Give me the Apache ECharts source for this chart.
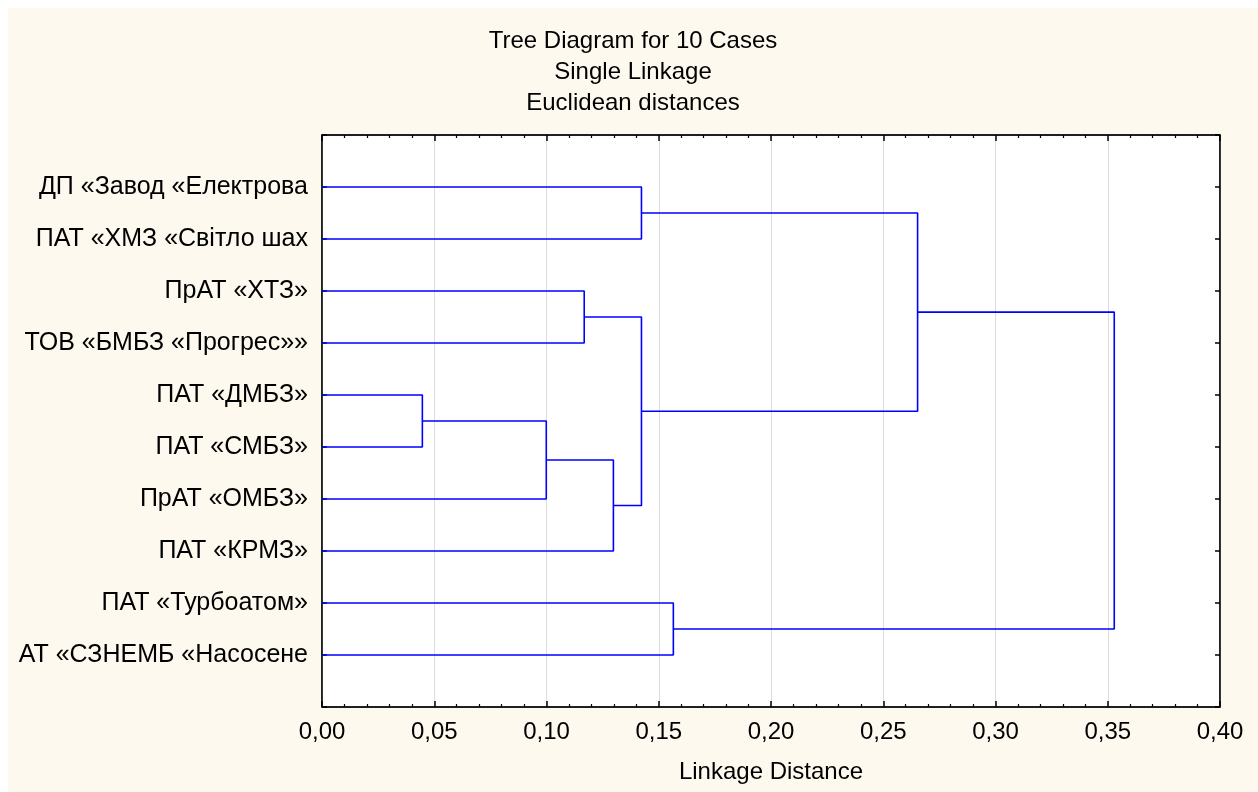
<!DOCTYPE html>
<html>
<head>
<meta charset="utf-8">
<script src="https://cdn.jsdelivr.net/npm/echarts@6/dist/echarts.min.js"></script>
<style>
  html, body { margin: 0; padding: 0; background: #ffffff; }
  #wrap { position: absolute; left: 8px; top: 8px; width: 1250px; height: 784px; background: #fdf9ef; }
  #chart { width: 1250px; height: 784px; }
</style>
</head>
<body>
<div id="wrap"><div id="chart"></div></div>
<script>
// Leaves, top to bottom
var leafNames = [
  'ДП «Завод «Електрова',
  'ПАТ «ХМЗ «Світло шах',
  'ПрАТ «ХТЗ»',
  'ТОВ «БМБЗ «Прогрес»»',
  'ПАТ «ДМБЗ»',
  'ПАТ «СМБЗ»',
  'ПрАТ «ОМБЗ»',
  'ПАТ «КРМЗ»',
  'ПАТ «Турбоатом»',
  'АТ «СЗНЕМБ «Насосене'
];
// Merges: node ids 0..9 are leaves, merge k creates node 10+k
var mergeLeft   = [4,      10,     2,      11,     0,      12,     8,      14,     17];
var mergeRight  = [5,      6,      3,      7,      1,      13,     9,      15,     16];
var mergeHeight = [0.0447, 0.0999, 0.1168, 0.1298, 0.1423, 0.1423, 0.1565, 0.2653, 0.3529];

var xTicks = [0, 0.05, 0.10, 0.15, 0.20, 0.25, 0.30, 0.35, 0.40];

// node positions (height, leaf-slot)
var nodeH = [], nodeY = [];
leafNames.forEach(function (n, i) { nodeH.push(0); nodeY.push(i + 1); });
var series = [];
for (var k = 0; k < mergeHeight.length; k++) {
  var a = mergeLeft[k], b = mergeRight[k], h = mergeHeight[k];
  series.push({
    type: 'line',
    xAxisIndex: 0, yAxisIndex: 0,
    symbol: 'none',
    silent: true,
    lineStyle: { color: '#0000ff', width: 1.6 },
    data: [[nodeH[a], nodeY[a]], [h, nodeY[a]], [h, nodeY[b]], [nodeH[b], nodeY[b]]]
  });
  nodeH.push(h);
  nodeY.push((nodeY[a] + nodeY[b]) / 2);
}

var font = 'Liberation Sans, Arial, Helvetica, sans-serif';
var xMin = xTicks[0], xMax = xTicks[xTicks.length - 1], xStep = xTicks[1] - xTicks[0];

function xAxisDef(pos, labels) {
  return {
    type: 'value', position: pos, min: xMin, max: xMax, interval: xStep,
    axisLine: { show: true, onZero: false, lineStyle: { color: '#000', width: 1.5 } },
    axisTick: { show: true, inside: true, length: 6, lineStyle: { color: '#000', width: 1.5 } },
    minorTick: { show: true, splitNumber: 5, length: 3, lineStyle: { color: '#000', width: 1.2 } },
    splitLine: { show: labels, lineStyle: { color: '#dcdcdc', width: 1 } },
    axisLabel: {
      show: labels, margin: 13, color: '#000', fontSize: 24, fontFamily: font,
      formatter: function (v) { return v.toFixed(2).replace('.', ','); }
    },
    name: labels ? 'Linkage Distance' : '',
    nameLocation: 'middle', nameGap: 53,
    nameTextStyle: { color: '#000', fontSize: 24, fontFamily: font }
  };
}
function yAxisDef(pos, labels) {
  return {
    type: 'value', position: pos, inverse: true, min: 0, max: leafNames.length + 1, interval: 1,
    axisLine: { show: true, onZero: false, lineStyle: { color: '#000', width: 1.5 } },
    axisTick: { show: true, inside: true, length: 5, lineStyle: { color: '#000', width: 1.5 } },
    splitLine: { show: false },
    axisLabel: {
      show: labels, margin: 14, color: '#000', fontSize: 25, fontFamily: font,
      formatter: function (v) { var i = Math.round(v) - 1; return (i >= 0 && i < leafNames.length) ? leafNames[i] : ''; }
    }
  };
}

var chart = echarts.init(document.getElementById('chart'));
chart.setOption({
  animation: false,
  backgroundColor: 'transparent',
  title: {
    text: 'Tree Diagram for 10 Cases\nSingle Linkage\nEuclidean distances',
    left: 'center', top: 13,
    textStyle: { color: '#000', fontSize: 24, fontWeight: 'normal', fontFamily: font, lineHeight: 31 }
  },
  grid: {
    left: 314, top: 127, right: 38, bottom: 85,
    show: true, backgroundColor: '#ffffff', borderColor: '#000', borderWidth: 1
  },
  xAxis: [xAxisDef('bottom', true), xAxisDef('top', false)],
  yAxis: [yAxisDef('left', true), yAxisDef('right', false)],
  series: series
});
</script>
</body>
</html>
